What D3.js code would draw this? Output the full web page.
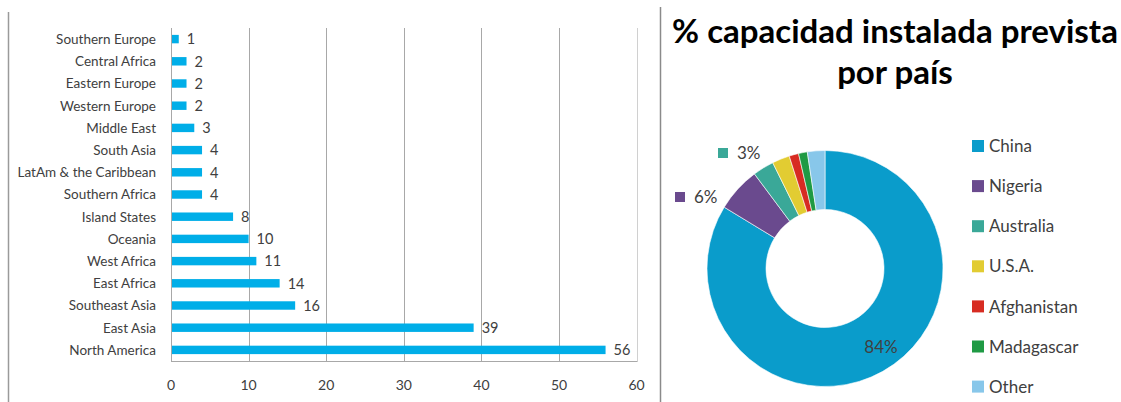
<!DOCTYPE html>
<html>
<head>
<meta charset="utf-8">
<script src="https://cdn.jsdelivr.net/npm/d3@7"></script>
<style>
  html, body { margin: 0; padding: 0; background: #fff; }
  svg { display: block; font-family: Lato, "Open Sans", sans-serif; }
</style>
</head>
<body>
<svg id="chart" width="1121" height="402"></svg>
<script>
// Regional counts (bar chart), listed top to bottom
const regions = [
  "Southern Europe", "Central Africa", "Eastern Europe", "Western Europe",
  "Middle East", "South Asia", "LatAm & the Caribbean", "Southern Africa",
  "Island States", "Oceania", "West Africa", "East Africa",
  "Southeast Asia", "East Asia", "North America"
];
const regionValues = [1, 2, 2, 2, 3, 4, 4, 4, 8, 10, 11, 14, 16, 39, 56];
const xTicks = [0, 10, 20, 30, 40, 50, 60];

// Share of planned installed capacity by country (donut)
const countries = ["China", "Nigeria", "Australia", "U.S.A.", "Afghanistan", "Madagascar", "Other"];
const countryShares = [83.7, 6.1, 2.9, 2.4, 1.3, 1.2, 2.4];
const countryColors = ["#0a9ccb", "#6a4a8e", "#3aa898", "#e2cc32", "#d72c22", "#1f9a44", "#88c7ea"];
const labelledCountries = ["China", "Nigeria", "Australia"];

const title = ["% capacidad instalada prevista", "por país"];

const svg = d3.select("#chart");
const textColor = "#404040";

// ---------- panel frames ----------
svg.append("line").attr("x1", 8.5).attr("x2", 8.5).attr("y1", 12).attr("y2", 402)
  .attr("stroke", "#9a9a9a").attr("stroke-width", 1.5);
svg.append("line").attr("x1", 660.5).attr("x2", 660.5).attr("y1", 7).attr("y2", 402)
  .attr("stroke", "#8a8a8a").attr("stroke-width", 1.5);

// ---------- bar chart ----------
const plot = { left: 171, right: 636.6, top: 28, bottom: 361 };
const x = d3.scaleLinear().domain([0, 60]).range([plot.left, plot.right]);
const y = d3.scaleBand().domain(regions).range([plot.top, plot.bottom])
  .paddingInner(0.62).paddingOuter(0.31);

const bar = svg.append("g");

// vertical gridlines
bar.selectAll("line.grid").data(xTicks.slice(1)).join("line")
  .attr("class", "grid")
  .attr("x1", d => Math.round(x(d)) + 0.5).attr("x2", d => Math.round(x(d)) + 0.5)
  .attr("y1", plot.top).attr("y2", plot.bottom)
  .attr("stroke", d => d === 60 ? "#d0d0d0" : "#a8a8a8").attr("stroke-width", 1);

// bars
bar.selectAll("rect.bar").data(regions).join("rect")
  .attr("class", "bar")
  .attr("x", x(0))
  .attr("y", d => y(d))
  .attr("width", (d, i) => x(regionValues[i]) - x(0))
  .attr("height", y.bandwidth())
  .attr("fill", "#00aee8");

// axis lines
bar.append("line").attr("x1", Math.round(x(0)) + 0.5).attr("x2", Math.round(x(0)) + 0.5)
  .attr("y1", plot.top).attr("y2", plot.bottom + 1).attr("stroke", "#a8a8a8");
bar.append("line").attr("x1", x(0)).attr("x2", x(60) + 1)
  .attr("y1", plot.bottom + 0.5).attr("y2", plot.bottom + 0.5).attr("stroke", "#a8a8a8");

// value labels
bar.selectAll("text.val").data(regions).join("text")
  .attr("class", "val")
  .attr("x", (d, i) => x(regionValues[i]) + 8)
  .attr("y", d => y(d) + y.bandwidth() / 2)
  .attr("dy", "0.36em")
  .attr("font-size", 14.5).attr("fill", textColor)
  .text((d, i) => regionValues[i]);

// category labels
bar.selectAll("text.cat").data(regions).join("text")
  .attr("class", "cat")
  .attr("x", plot.left - 15)
  .attr("y", d => y(d) + y.bandwidth() / 2)
  .attr("dy", "0.36em")
  .attr("text-anchor", "end")
  .attr("font-size", 13.5).attr("fill", textColor)
  .text(d => d);

// x tick labels
bar.selectAll("text.tick").data(xTicks).join("text")
  .attr("class", "tick")
  .attr("x", d => x(d))
  .attr("y", 385)
  .attr("dy", "0.36em")
  .attr("text-anchor", "middle")
  .attr("font-size", 14).attr("fill", textColor)
  .text(d => d);

// ---------- donut ----------
const titleG = svg.append("g").attr("font-weight", "bold").attr("fill", "#000");
title.forEach((line, i) => {
  titleG.append("text")
    .attr("x", 895).attr("y", 43 + i * 41)
    .attr("text-anchor", "middle")
    .attr("font-size", 33)
    .text(line);
});

const cx = 825, cy = 268.5, outerR = 118, innerR = 59;
const pie = d3.pie().sort(null).value(d => d.v);
const slices = pie(countries.map((c, i) => ({ c, v: countryShares[i], color: countryColors[i] })));
const arc = d3.arc().innerRadius(innerR).outerRadius(outerR);

const donut = svg.append("g").attr("transform", `translate(${cx},${cy})`);
donut.selectAll("path").data(slices).join("path")
  .attr("d", arc)
  .attr("fill", d => d.data.color)
  .attr("stroke", "#ffffff").attr("stroke-width", 0.6);

// percentage labels: China inside the ring, smaller shares outside with a key square
const fmt = v => Math.round(v) + "%";
const labelPos = {
  China:     { inside: true, dx: 56, dy: 78.5 },
  Nigeria:   { dx: -150, dy: -71.5 },
  Australia: { dx: -107, dy: -115.5 }
};
slices.filter(s => labelledCountries.includes(s.data.c)).forEach(s => {
  const p = labelPos[s.data.c];
  if (p.inside) {
    donut.append("text")
      .attr("x", p.dx).attr("y", p.dy)
      .attr("dy", "0.36em").attr("text-anchor", "middle")
      .attr("font-size", 17).attr("fill", textColor)
      .text(fmt(s.data.v));
  } else {
    donut.append("rect")
      .attr("x", p.dx).attr("y", p.dy - 5).attr("width", 10).attr("height", 10)
      .attr("fill", s.data.color);
    donut.append("text")
      .attr("x", p.dx + 19).attr("y", p.dy).attr("dy", "0.36em")
      .attr("font-size", 17).attr("fill", textColor)
      .text(fmt(s.data.v));
  }
});

// legend
const legend = svg.append("g").attr("transform", "translate(972,146)");
const rows = legend.selectAll("g").data(countries).join("g")
  .attr("transform", (d, i) => `translate(0,${i * 40.1})`);
rows.append("rect").attr("x", 0).attr("y", -6).attr("width", 12).attr("height", 12)
  .attr("fill", (d, i) => countryColors[i]);
rows.append("text").attr("x", 17).attr("dy", "0.36em")
  .attr("font-size", 17).attr("fill", textColor)
  .text(d => d);
</script>
</body>
</html>
